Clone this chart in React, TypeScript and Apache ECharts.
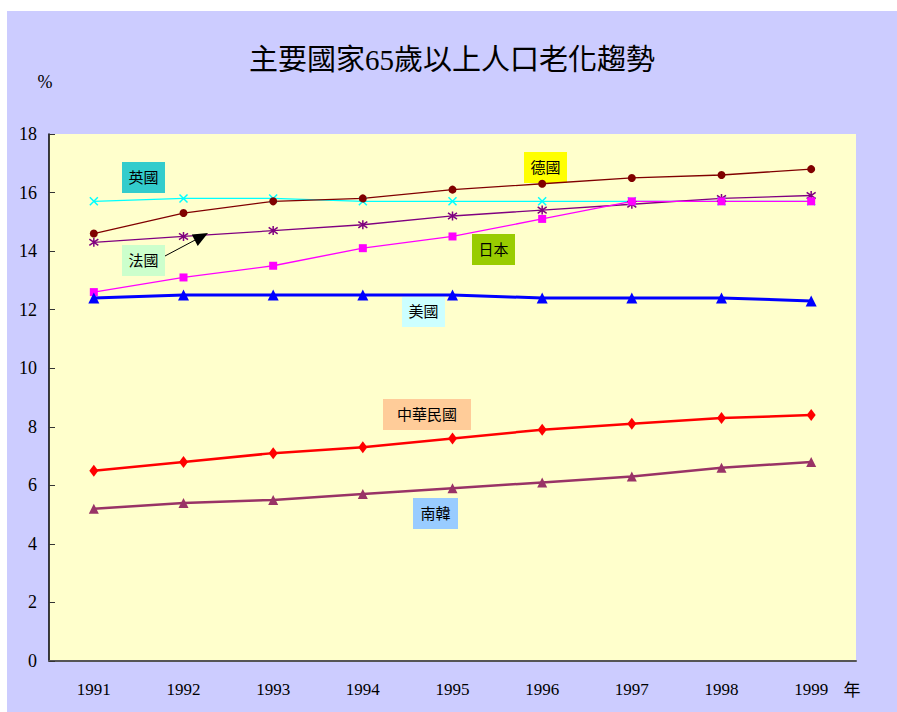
import React, { useEffect, useRef } from "react";
import * as echarts from "echarts";

const years = ["1991", "1992", "1993", "1994", "1995", "1996", "1997", "1998", "1999"];
const taiwan = [6.5, 6.8, 7.1, 7.3, 7.6, 7.9, 8.1, 8.3, 8.4];
const korea = [5.2, 5.4, 5.5, 5.7, 5.9, 6.1, 6.3, 6.6, 6.8];
const usa = [12.4, 12.5, 12.5, 12.5, 12.5, 12.4, 12.4, 12.4, 12.3];
const japan = [12.6, 13.1, 13.5, 14.1, 14.5, 15.1, 15.7, 15.7, 15.7];
const germany = [14.6, 15.3, 15.7, 15.8, 16.1, 16.3, 16.5, 16.6, 16.8];
const france = [14.3, 14.5, 14.7, 14.9, 15.2, 15.4, 15.6, 15.8, 15.9];
const uk = [15.7, 15.8, 15.8, 15.7, 15.7, 15.7, 15.7, 15.7, 15.7];

const SERIF = "Liberation Serif, Times New Roman, Noto Sans CJK TC, serif";

function label(x: number, y: number, w: number, h: number, text: string, fill: string) {
  return {
    type: "group",
    x,
    y,
    children: [
      { type: "rect", shape: { x: 0, y: 0, width: w, height: h }, style: { fill } },
      {
        type: "text",
        x: w / 2,
        y: h / 2,
        style: {
          text,
          fill: "#000",
          fontSize: 15,
          fontFamily: SERIF,
          align: "center",
          verticalAlign: "middle",
        },
      },
    ],
  };
}

export default function App() {
  const ref = useRef<HTMLDivElement>(null);
  useEffect(() => {
    if (!ref.current) return;
    const chart = echarts.init(ref.current, null, { renderer: "svg" });
    const line = (name: string, data: number[], color: string, width: number, symbol: string, size: any, item?: any) => ({
      name,
      type: "line",
      data,
      symbol,
      symbolSize: size,
      lineStyle: { color, width },
      itemStyle: item || { color },
      z: 3,
    });
    chart.setOption({
      animation: false,
      backgroundColor: "#CCCCFF",
      textStyle: { fontFamily: SERIF },
      title: {
        text: "主要國家65歲以上人口老化趨勢",
        left: "center",
        top: 29,
        textStyle: { fontFamily: SERIF, fontSize: 29, fontWeight: "normal", color: "#000" },
      },
      grid: {
        left: 42,
        top: 123,
        right: 41,
        bottom: 51,
        show: true,
        backgroundColor: "#FFFFCC",
        borderWidth: 0,
      },
      xAxis: {
        type: "category",
        data: years,
        boundaryGap: true,
        axisLine: { lineStyle: { color: "#555", width: 2 } },
        axisTick: { inside: true, length: 6, lineStyle: { color: "#333" } },
        axisLabel: { margin: 20, color: "#000", fontFamily: SERIF, fontSize: 17 },
      },
      yAxis: {
        type: "value",
        min: 0,
        max: 18,
        interval: 2,
        axisLine: { show: true, lineStyle: { color: "#000", width: 1.5 } },
        axisTick: { show: true, inside: true, length: 6, lineStyle: { color: "#333" } },
        axisLabel: { margin: 12, color: "#000", fontFamily: SERIF, fontSize: 18 },
        splitLine: { show: false },
      },
      series: [
        line("英國", uk, "#00FFFF", 1.2, "path://M0,0L10,10M10,0L0,10", 8, {
          color: "rgba(0,0,0,0)",
          borderColor: "#00FFFF",
          borderWidth: 1.5,
        }),
        line("德國", germany, "#800000", 1.3, "circle", 8),
        line("法國", france, "#800080", 1.3, "path://M5,0L5,10M0,1.5L10,8.5M10,1.5L0,8.5", 9, {
          color: "rgba(0,0,0,0)",
          borderColor: "#800080",
          borderWidth: 1.5,
        }),
        line("日本", japan, "#FF00FF", 1.3, "rect", 8),
        line("美國", usa, "#0000FF", 3, "triangle", 11),
        line("中華民國", taiwan, "#FF0000", 2.5, "diamond", [9, 12]),
        line("南韓", korea, "#993366", 2.5, "triangle", 10),
      ],
      graphic: [
        { type: "text", x: 38, y: 71, style: { text: "%", fontSize: 18, fontFamily: SERIF, fill: "#000", align: "center", verticalAlign: "middle" } },
        { type: "text", x: 845, y: 679, style: { text: "年", fontSize: 17, fontFamily: SERIF, fill: "#000", align: "center", verticalAlign: "middle" } },
        label(115, 151, 43, 31, "英國", "#33CCCC"),
        label(115, 234, 43, 31, "法國", "#CCFFCC"),
        label(395, 286, 43, 30, "美國", "#CCFFFF"),
        label(517, 141, 43, 31, "德國", "#FFFF00"),
        label(465, 223, 43, 31, "日本", "#99CC00"),
        label(376, 388, 88, 31, "中華民國", "#FFCC99"),
        label(406, 487, 45, 31, "南韓", "#99CCFF"),
        { type: "line", shape: { x1: 158, y1: 245, x2: 190, y2: 228 }, style: { stroke: "#000", lineWidth: 1 }, z: 10 },
        { type: "polygon", shape: { points: [[201, 222], [190.7, 235], [184.8, 223.5]] }, style: { fill: "#000" }, z: 10 },
      ],
    });
    return () => chart.dispose();
  }, []);
  return <div ref={ref} style={{ position: "fixed", left: 7, top: 11, width: 890, height: 701 }} />;
}
